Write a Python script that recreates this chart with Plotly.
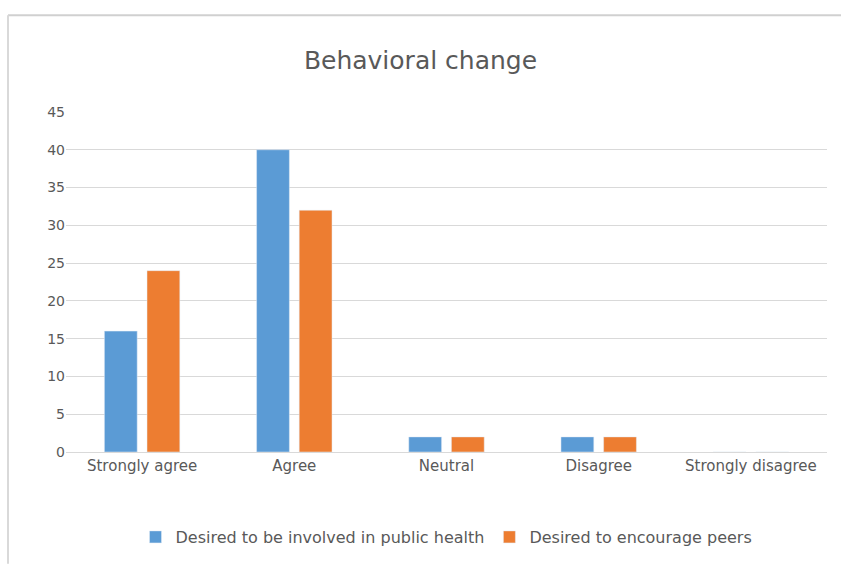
import plotly.graph_objects as go

categories = ["Strongly agree", "Agree", "Neutral", "Disagree", "Strongly disagree"]
involved = [16, 40, 2, 2, 0]
encourage = [24, 32, 2, 2, 0]
series_names = ["Desired to be involved in public health", "Desired to encourage peers"]
y_ticks = [0, 5, 10, 15, 20, 25, 30, 35, 40, 45]

fig = go.Figure()
fig.add_trace(go.Bar(x=categories, y=involved, name=series_names[0], marker_color="#5B9BD5"))
fig.add_trace(go.Bar(x=categories, y=encourage, name=series_names[1], marker_color="#ED7D31"))

W, H = 841, 565
ml, mr, mt, mb = 66, 14, 112, 112
pw, ph = W - ml - mr, H - mt - mb

def px(x):
    return (x - ml) / pw

def py(y):
    return (H - mb - y) / ph

FONT = "DejaVu Sans, Liberation Sans, Arial"

fig.update_layout(
    width=W, height=H,
    margin=dict(l=ml, r=mr, t=mt, b=mb),
    paper_bgcolor="white", plot_bgcolor="white",
    barmode="group", bargap=0.44, bargroupgap=0.23,
    title=dict(text="Behavioral change", x=0.5, xanchor="center", y=1 - 60 / H, yanchor="middle",
               font=dict(family=FONT, size=25, color="#595959")),
    font=dict(family=FONT, size=15, color="#595959"),
    showlegend=True,
    legend=dict(orientation="h", x=0.5, xanchor="center", y=py(537), yanchor="middle",
                font=dict(family=FONT, size=16, color="#595959")),
    xaxis=dict(showgrid=False, showline=True, linecolor="#d9d9d9", linewidth=1,
               tickfont=dict(family=FONT, size=15, color="#595959"), ticks=""),
    yaxis=dict(range=[0, 45], tickvals=y_ticks, showgrid=True, gridcolor="#d9d9d9", gridwidth=1,
               zeroline=False, showline=False, tickfont=dict(family=FONT, size=14, color="#595959"),
               ticks=""),
    shapes=[
        dict(type="line", xref="paper", yref="paper", x0=px(8), x1=px(841), y0=py(15), y1=py(15),
             line=dict(color="#d0d0d0", width=2)),
        dict(type="line", xref="paper", yref="paper", x0=px(8), x1=px(8), y0=py(15), y1=py(565),
             line=dict(color="#d9d9d9", width=2)),
    ],
)

fig.write_html("out.html")
